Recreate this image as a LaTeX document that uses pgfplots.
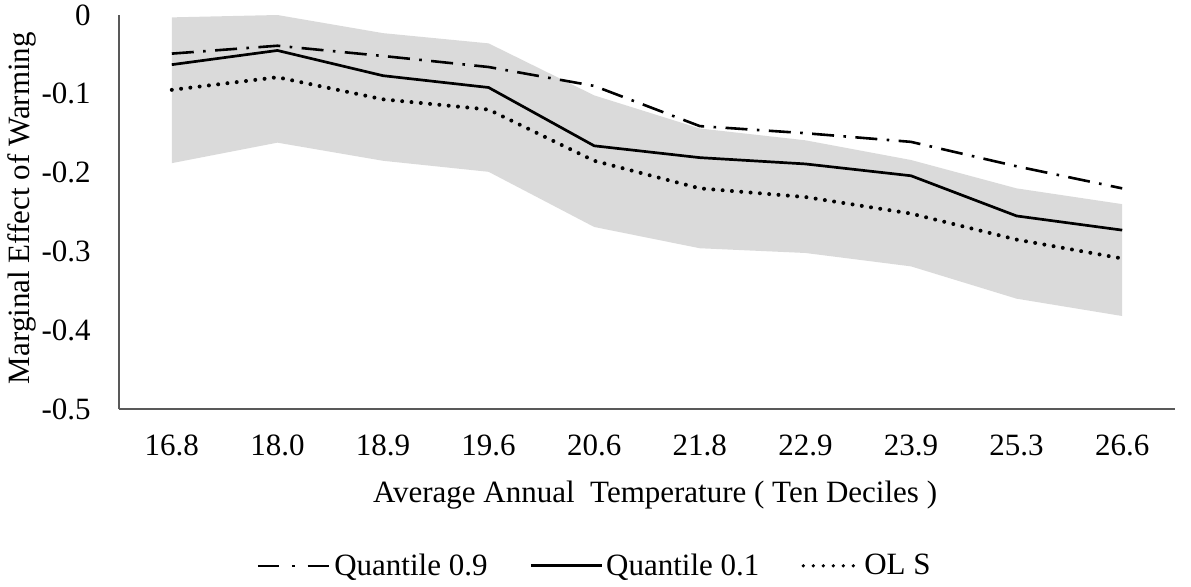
\documentclass[border=0pt]{standalone}
\usepackage{fontspec}
\setmainfont{Liberation Serif}
\usepackage{pgfplots}
\usepackage{pgfplotstable}
\pgfplotsset{compat=1.18}
\usepgfplotslibrary{fillbetween}
\definecolor{axisgray}{RGB}{89,89,89}
\definecolor{bandgray}{RGB}{218,218,218}
\newcommand{\lblfont}{\fontsize{15.5}{18}\selectfont}

% deciles: q90, q10, ols, confidence band (up / lo)
\pgfplotstableread{
x   qnine  qone   ols    up     lo
0  -0.049 -0.063 -0.095 -0.003 -0.188
1  -0.039 -0.045 -0.079  0.000 -0.162
2  -0.052 -0.077 -0.107 -0.023 -0.185
3  -0.066 -0.092 -0.120 -0.036 -0.199
4  -0.090 -0.166 -0.185 -0.102 -0.269
5  -0.141 -0.181 -0.220 -0.144 -0.296
6  -0.150 -0.189 -0.231 -0.159 -0.302
7  -0.161 -0.204 -0.252 -0.184 -0.319
8  -0.192 -0.255 -0.285 -0.220 -0.360
9  -0.220 -0.273 -0.309 -0.240 -0.382
}\data

\begin{document}
\begin{tikzpicture}
\begin{axis}[
    scale only axis,
    width=528pt, height=197pt,
    at={(0,0)}, anchor=south west,
    xmin=-0.5, xmax=9.5, ymin=-0.5, ymax=0,
    axis lines*=left,
    axis line style={axisgray, line width=1pt},
    xtick={0,1,2,3,4,5,6,7,8,9},
    xticklabels={16.8,18.0,18.9,19.6,20.6,21.8,22.9,23.9,25.3,26.6},
    ytick={-0.5,-0.4,-0.3,-0.2,-0.1,0},
    yticklabels={-0.5,-0.4,-0.3,-0.2,-0.1,0},
    major tick length=0pt,
    tick style={draw=none},
    ticklabel style={font=\lblfont, inner sep=0pt},
    xticklabel style={anchor=base, yshift=-23.3pt},
    yticklabel style={anchor=east, xshift=-14pt},
    xlabel={Average Annual~ Temperature ( Ten Deciles )},
    ylabel={Marginal Effect of Warming},
    every axis x label/.style={at={(axis description cs:0.5076,0)}, anchor=base, yshift=-46.5pt, font=\lblfont},
    every axis y label/.style={at={(axis description cs:-0.0843,0.51)}, rotate=90, anchor=base, font=\lblfont},
    legend columns=3,
    legend cell align=left,
    legend style={draw=none, fill=none, inner sep=0pt,
        at={(axis description cs:0.1300,-0.398)}, anchor=west,
        font=\lblfont, nodes={inner sep=0pt},
        /tikz/every odd column/.append style={column sep=1.5pt},
        /tikz/every even column/.append style={column sep=21pt}},
    clip=false,
]

\addplot[name path=up, draw=none, forget plot] table[x=x, y=up] {\data};
\addplot[name path=lo, draw=none, forget plot] table[x=x, y=lo] {\data};
\addplot[bandgray, forget plot] fill between[of=up and lo];

\addplot[black, line width=1.3pt, dash pattern=on 11pt off 4.7pt on 1.3pt off 4.7pt,
    legend image code/.code={\draw[dash pattern=on 10.5pt off 6.5pt on 1.3pt off 6.5pt] (0pt,0pt) -- (35.3pt,0pt);
        \path (36pt,0pt);}]
    table[x=x, y=qnine] {\data};
\addlegendentry{Quantile 0.9}

\addplot[black, line width=1.35pt,
    legend image code/.code={\draw (0pt,0pt) -- (35.5pt,0pt);}]
    table[x=x, y=qone] {\data};
\addlegendentry{Quantile 0.1}

\addplot[black, line width=2pt, line cap=round, dash pattern=on 0pt off 4.67pt,
    legend image code/.code={\draw[line width=1.8pt, dash pattern=on 0pt off 5pt] (0pt,0pt) -- (25pt,0pt);
        \path (28pt,0pt);}]
    table[x=x, y=ols] {\data};
\addlegendentry{OL S}

\end{axis}
\pgfresetboundingbox
\path[use as bounding box] (-59.5pt,-88.5pt) rectangle (536pt,204.5pt);
\end{tikzpicture}
\end{document}
